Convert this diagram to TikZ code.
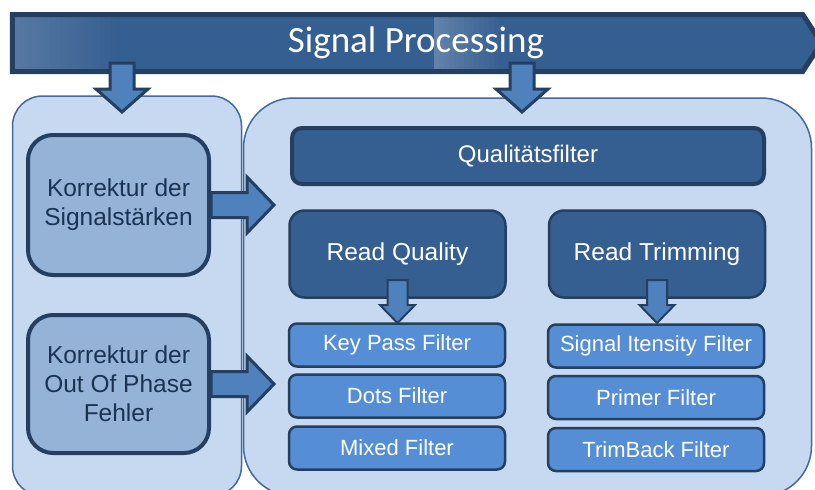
\documentclass[tikz,border=0pt]{standalone}
\usepackage{fontspec}
\setmainfont{Liberation Sans}
\newfontfamily\titlefont{Carlito}
\usetikzlibrary{shapes.symbols,calc}
\definecolor{panelfill}{HTML}{C6D9F1}
\definecolor{panelline}{HTML}{41699C}
\definecolor{darkline}{HTML}{243F60}
\definecolor{darkfill}{HTML}{365F91}
\definecolor{corrfill}{HTML}{95B3D7}
\definecolor{corrtext}{HTML}{1B3353}
\definecolor{filterfill}{HTML}{558ED5}
\definecolor{arrowfill}{HTML}{4F81BD}
\tikzset{
  panel/.style={draw=panelline, line width=1.5pt, fill=panelfill},
  banner/.style={signal, signal to=east, signal pointer angle=114, draw=darkline,
    line width=5pt, line join=miter, fill=darkfill, text=white, inner sep=0pt,
    minimum width=809pt, minimum height=57pt, font=\titlefont\fontsize{37}{40}\selectfont},
  corrbox/.style={draw=darkline, line width=4pt, fill=corrfill, rounded corners=25pt,
    text=corrtext, align=center, minimum width=181pt, inner sep=0pt,
    font=\fontsize{24.5}{29}\selectfont},
  qualbox/.style={draw=darkline, line width=4pt, fill=darkfill, rounded corners=10pt,
    text=white, minimum width=472pt, minimum height=56pt, font=\fontsize{24}{29}\selectfont},
  readbox/.style={draw=darkline, line width=2.5pt, fill=darkfill, rounded corners=15pt,
    text=white, minimum width=216pt, minimum height=87pt, font=\fontsize{24.5}{29}\selectfont},
  filterbox/.style={draw=darkline, line width=2.5pt, fill=filterfill, rounded corners=8pt,
    text=white, minimum width=216pt, minimum height=43pt, inner sep=0pt,
    font=\fontsize{22}{26}\selectfont},
  arrowbox/.style={draw=darkline, fill=arrowfill, line join=miter},
  every picture/.style={line cap=round, line join=round}
}
% block arrow: start, rotation, length, shaft half width, head half width, head length
\newcommand{\blockarrow}[7][3pt]{%
  \draw[arrowbox, line width=#1, shift={#2}, rotate=#3]
    (0,-#5) -- (#4-#7,-#5) -- (#4-#7,-#6) -- (#4,0) -- (#4-#7,#6) -- (#4-#7,#5) -- (0,#5) -- cycle;}

\begin{document}
\begin{tikzpicture}[x=1pt,y=-1pt]
  \useasboundingbox (0,0) rectangle (815,490);

  % panels
  \node[panel, rounded corners=30pt, minimum width=229pt, minimum height=400pt] (left) at (127,296) {};
  \node[panel, rounded corners=50pt, minimum width=568pt, minimum height=398pt] (right) at (527.5,297) {};

  % banner, with lighter bands
  \node[banner, path picture={
      \foreach \i in {0,...,19}
        \fill[white, opacity={0.16*(1-\i/20)}]
          ([xshift={3+5*\i}]path picture bounding box.north west) rectangle
          ([xshift={8+5*\i}]path picture bounding box.south west);
      \foreach \i in {0,...,12}
        \fill[white, opacity={0.22*(1-\i/13)}]
          ([xshift={421.5+5*\i}]path picture bounding box.north west) rectangle
          ([xshift={426.5+5*\i}]path picture bounding box.south west);
    }] (signal) at (407.5,43) {\hspace*{17pt}\raisebox{2pt}{Signal Processing}};

  % correction steps
  \node[corrbox, minimum height=140pt] (corr1) at (118.5,205) {Korrektur der\\Signalstärken};
  \node[corrbox, minimum height=138pt] (corr2) at (118.5,384) {Korrektur der\\Out Of Phase\\Fehler};

  % quality filter
  \node[qualbox] (qual) at (528,156) {Qualitätsfilter};
  \node[readbox] (rq) at (397.5,254) {Read Quality};
  \node[readbox] (rt) at (657,254) {Read Trimming};

  \node[filterbox] (kp) at (397,345) {Key Pass Filter};
  \node[filterbox] (dots) at (397,396) {Dots Filter};
  \node[filterbox] (mixed) at (397,448) {Mixed Filter};
  \node[filterbox] (sig) at (656,346) {Signal Itensity Filter};
  \node[filterbox] (primer) at (656,397.5) {Primer Filter};
  \node[filterbox] (trim) at (656,449.5) {TrimBack Filter};

  % arrows
  \coordinate (d1) at (122,63);
  \coordinate (d2) at (522,63);
  \coordinate (r1) at (corr1.east);
  \coordinate (r2) at (corr2.east);
  \coordinate (s1) at (rq.south |- 0,280);
  \coordinate (s2) at (rt.south |- 0,280);
  \blockarrow{(d1)}{-90}{49}{12}{26}{23}
  \blockarrow{(d2)}{-90}{49}{12}{26}{23}
  \blockarrow{(r1)}{0}{63}{12.5}{28}{27}
  \blockarrow{(r2)}{0}{63}{12.5}{28}{27}
  \blockarrow[2pt]{(s1)}{-90}{43}{10}{17.5}{18}
  \blockarrow[2pt]{(s2)}{-90}{43}{10}{17.5}{18}
\end{tikzpicture}
\end{document}
